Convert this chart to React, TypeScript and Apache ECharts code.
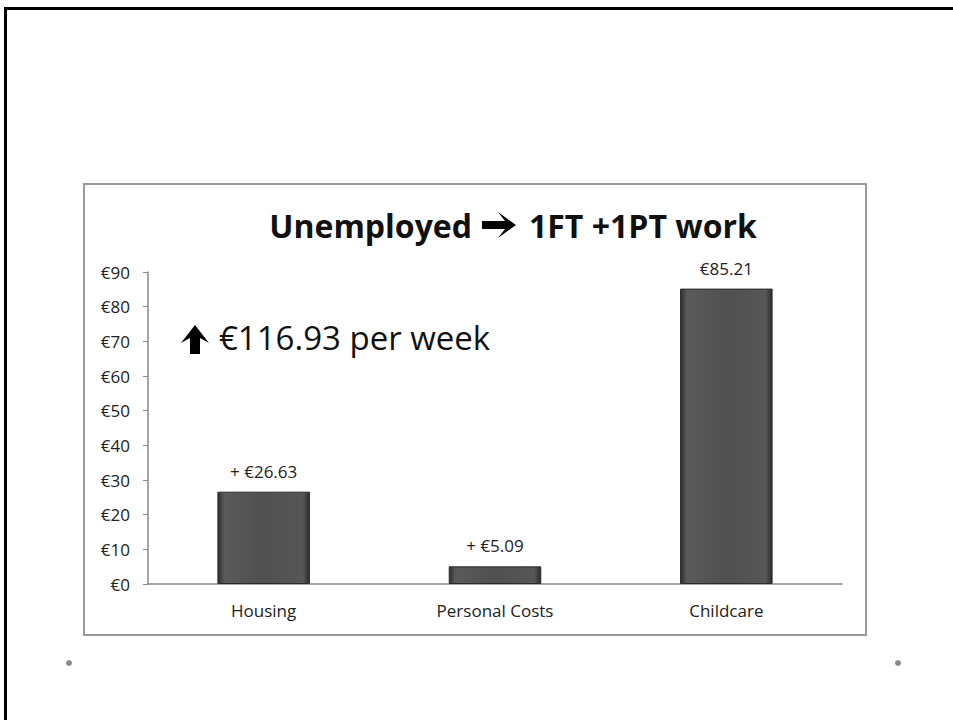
import React, { useEffect, useRef } from "react";
import * as echarts from "echarts";

const categories = ["Housing", "Personal Costs", "Childcare"];
const values = [26.63, 5.09, 85.21];
const labelPrefixes = ["+ ", "+ ", ""];
const titleLeft = "Unemployed";
const titleRight = "1FT +1PT work";
const noteText = "\u20ac116.93 per week";
const FONT = "'Open Sans', Lato, 'DejaVu Sans', sans-serif";

export default function App() {
  const ref = useRef<HTMLDivElement>(null);
  useEffect(() => {
    if (!ref.current) return;
    const chart = echarts.init(ref.current, undefined, { renderer: "svg" });
    const barGradient = new echarts.graphic.LinearGradient(0, 0, 1, 0, [
      { offset: 0, color: "#2f2f2f" },
      { offset: 0.07, color: "#5a5a5a" },
      { offset: 0.5, color: "#505050" },
      { offset: 0.93, color: "#575757" },
      { offset: 1, color: "#2c2c2c" },
    ]);
    chart.setOption({
      animation: false,
      backgroundColor: "#ffffff",
      textStyle: { fontFamily: FONT },
      grid: { left: 148, right: 111, top: 272, bottom: 136, containLabel: false },
      xAxis: {
        type: "category",
        data: categories,
        axisLine: { show: true, lineStyle: { color: "#888888", width: 1.5 } },
        axisTick: { show: false },
        axisLabel: { color: "#222222", fontSize: 17, margin: 18, fontFamily: FONT },
      },
      yAxis: {
        type: "value",
        min: 0,
        max: 90,
        interval: 10,
        splitLine: { show: false },
        axisLine: { show: true, lineStyle: { color: "#888888", width: 1.5 } },
        axisTick: { show: true, length: 5, lineStyle: { color: "#888888" } },
        axisLabel: {
          color: "#222222",
          fontSize: 17,
          margin: 18,
          fontFamily: FONT,
          formatter: (v: number) => "\u20ac" + v,
        },
      },
      series: [
        {
          type: "bar",
          data: values,
          barWidth: "40%",
          itemStyle: { color: barGradient, borderColor: "#2a2a2a", borderWidth: 1 },
          label: {
            show: true,
            position: "top",
            distance: 12,
            color: "#222222",
            fontSize: 17,
            fontFamily: FONT,
            formatter: (p: any) => labelPrefixes[p.dataIndex] + "\u20ac" + Number(p.value).toFixed(2),
          },
        },
      ],
      graphic: [
        {
          type: "rect",
          shape: { x: 4, y: 7, width: 960, height: 3 },
          style: { fill: "#000000" },
          z: 10,
        },
        {
          type: "rect",
          shape: { x: 4, y: 7, width: 3, height: 720 },
          style: { fill: "#000000" },
          z: 10,
        },
        {
          type: "rect",
          shape: { x: 84, y: 184, width: 782, height: 451 },
          style: { fill: "none", stroke: "#9a9a9a", lineWidth: 2 },
          z: -1,
        },
        {
          type: "circle",
          shape: { cx: 69, cy: 663, r: 3 },
          style: { fill: "#8a8a8a" },
        },
        {
          type: "circle",
          shape: { cx: 898, cy: 663, r: 3 },
          style: { fill: "#8a8a8a" },
        },
        {
          type: "text",
          x: 472,
          y: 225,
          style: {
            text: titleLeft,
            fontSize: 32,
            fontWeight: "bold",
            fontFamily: FONT,
            fill: "#111111",
            textAlign: "right",
            textVerticalAlign: "middle",
          },
        },
        {
          type: "polygon",
          shape: {
            points: [
              [482, 221], [505, 221], [498, 212], [516, 225], [498, 238], [505, 229], [482, 229],
            ],
          },
          style: { fill: "#000000" },
        },
        {
          type: "text",
          x: 529,
          y: 225,
          style: {
            text: titleRight,
            fontSize: 32,
            fontWeight: "bold",
            fontFamily: FONT,
            fill: "#111111",
            textAlign: "left",
            textVerticalAlign: "middle",
          },
        },
        {
          type: "polygon",
          shape: {
            points: [
              [195, 325], [209, 343], [200, 338], [200, 354], [190, 354], [190, 338], [181, 343],
            ],
          },
          style: { fill: "#000000" },
        },
        {
          type: "text",
          x: 219,
          y: 337,
          style: {
            text: noteText,
            fontSize: 33,
            fontFamily: FONT,
            fill: "#111111",
            textAlign: "left",
            textVerticalAlign: "middle",
          },
        },
      ],
    });
    return () => chart.dispose();
  }, []);
  return (
    <div
      ref={ref}
      style={{ position: "fixed", left: 0, top: 0, width: 953, height: 720, background: "#fff" }}
    />
  );
}
